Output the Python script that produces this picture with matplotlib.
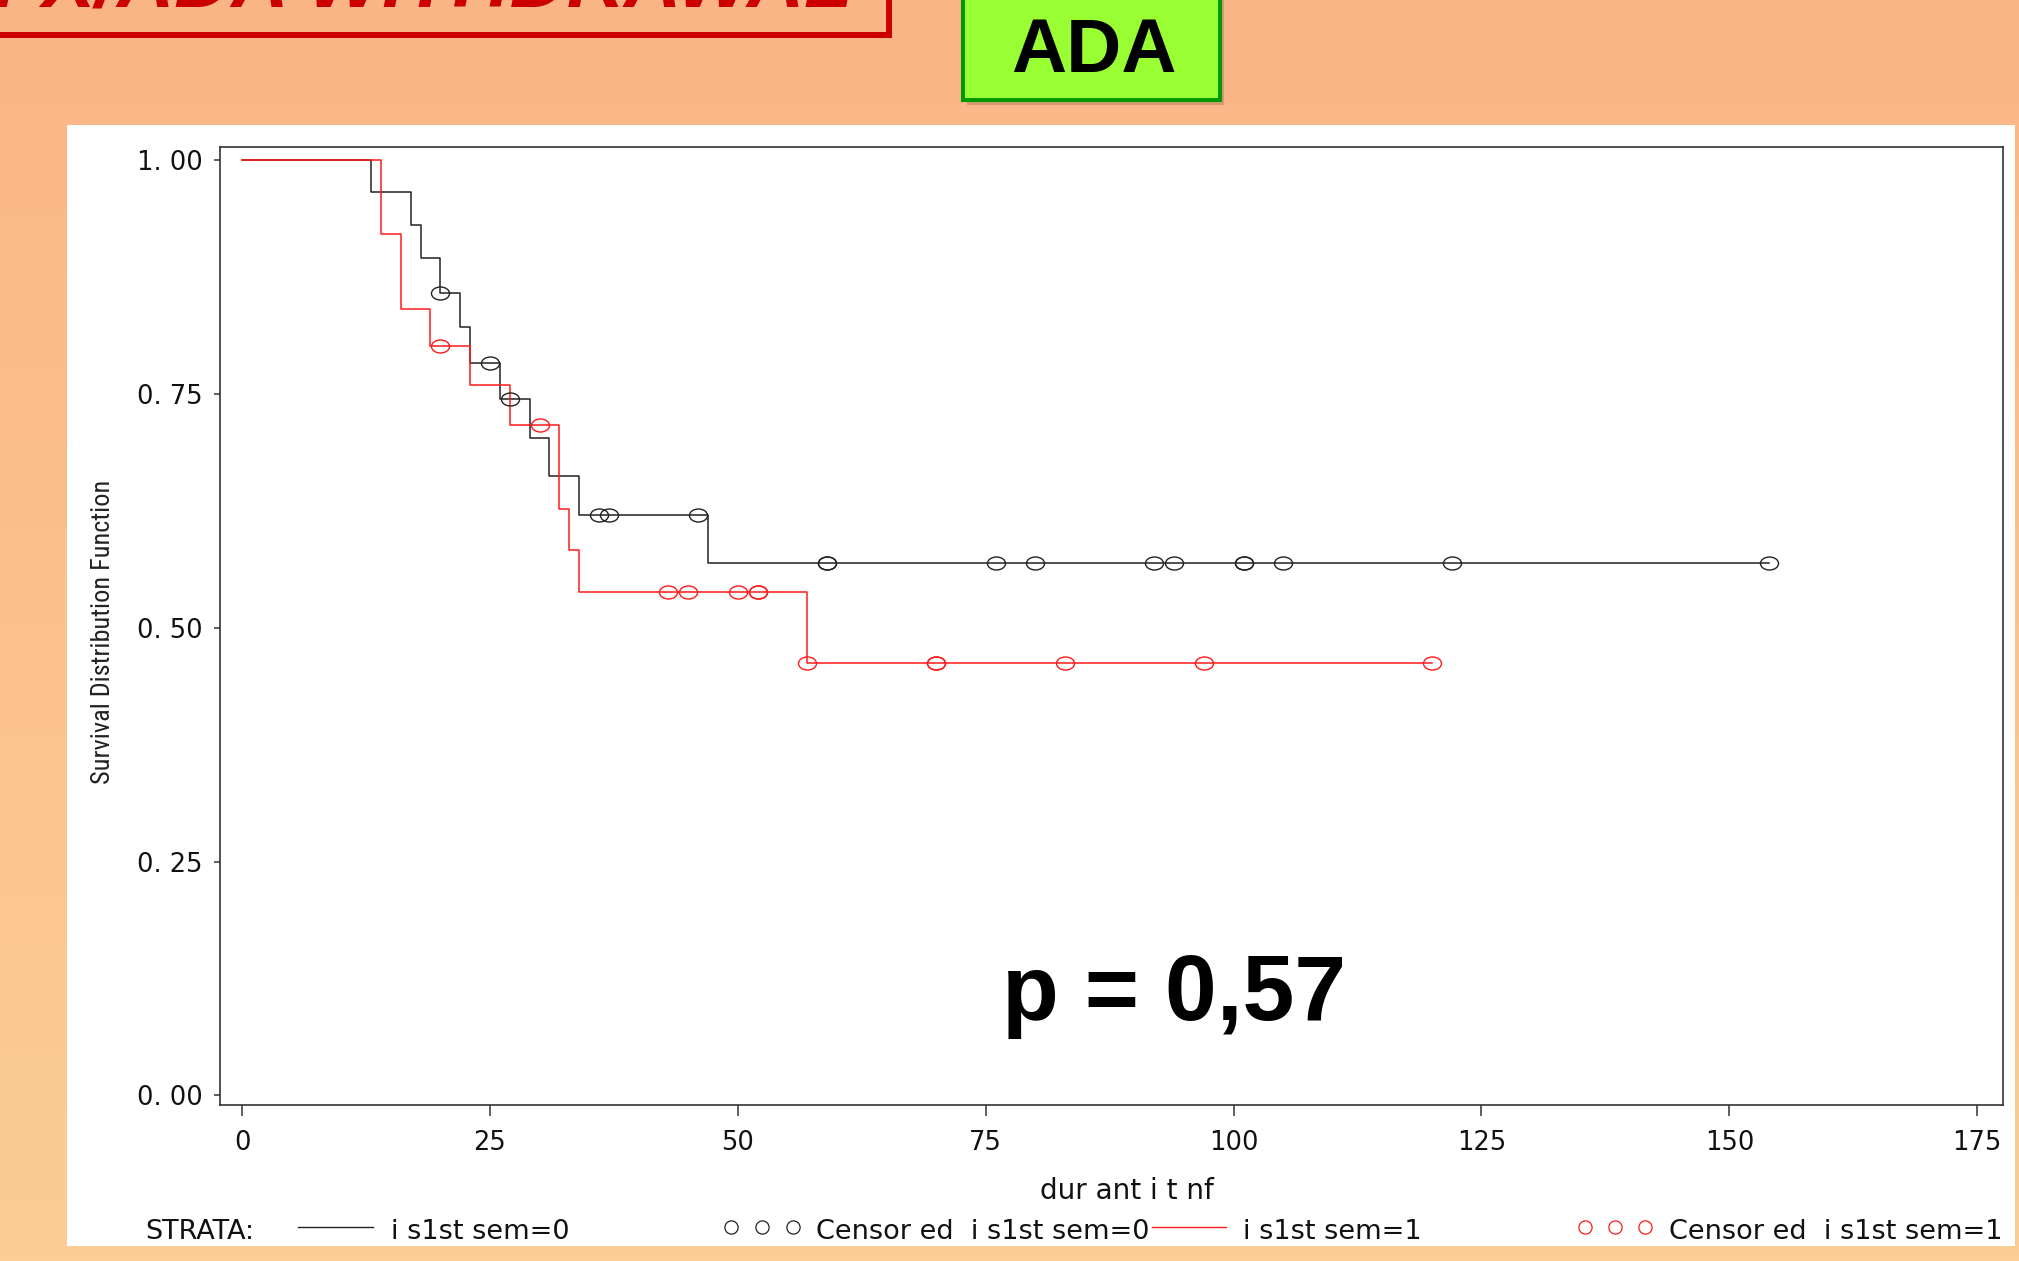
import numpy as np
import matplotlib
matplotlib.use("Agg")
import matplotlib.pyplot as plt
from matplotlib.patches import Rectangle
from matplotlib.lines import Line2D
from matplotlib.path import Path
from matplotlib import font_manager as fm

# ---------------- data ----------------
black_event_times = [0, 13, 17, 18, 20, 22, 23, 26, 29, 31, 34, 47]
black_survival = [1.000, 0.966, 0.930, 0.895, 0.858, 0.821, 0.783, 0.744, 0.703, 0.662, 0.621, 0.569]
black_last_time = 154
black_censor_times = [20, 25, 27, 36, 37, 46, 59, 59, 76, 80, 92, 94, 101, 101, 105, 122, 154]

red_event_times = [0, 14, 16, 19, 23, 27, 32, 33, 34, 57]
red_survival = [1.000, 0.921, 0.841, 0.801, 0.759, 0.717, 0.627, 0.583, 0.538, 0.462]
red_last_time = 120
red_censor_times = [20, 30, 43, 45, 50, 52, 52, 57, 70, 70, 83, 97, 120]

x_ticks = [0, 25, 50, 75, 100, 125, 150, 175]
x_tick_labels = ["0", "25", "50", "75", "100", "125", "150", "175"]
y_ticks = [0.0, 0.25, 0.5, 0.75, 1.0]
y_tick_labels = ["0. 00", "0. 25", "0. 50", "0. 75", "1. 00"]

title_text = "IFX/ADA WITHDRAWAL"
badge_text = "ADA"
p_text = "p = 0,57"
x_label = "dur ant i t nf"
y_label = "Survival Distribution Function"
legend_strata = "STRATA:"
legend_labels = ["i s1st sem=0", "Censor ed  i s1st sem=0", "i s1st sem=1", "Censor ed  i s1st sem=1"]

BLACK = "#222222"
RED = "#FF1A1A"

# ---------------- helpers ----------------
W, H = 2019, 1261
fig = plt.figure(figsize=(W / 100, H / 100), dpi=100)


def fx(px):
    return px / W


def fy(py):
    return 1 - py / H


def has_font(name):
    try:
        fm.findfont(fm.FontProperties(family=name), fallback_to_default=False)
        return True
    except Exception:
        return False


BOLD_FAM = "Liberation Sans" if has_font("Liberation Sans") else "DejaVu Sans"

# ---------------- background gradient ----------------
bg = fig.add_axes([0, 0, 1, 1], zorder=-10)
top = np.array([250, 181, 134]) / 255.0
bot = np.array([252, 205, 151]) / 255.0
tt = np.linspace(0, 1, 256)[:, None, None]
grad = top[None, None, :] * (1 - tt) + bot[None, None, :] * tt
bg.imshow(grad, aspect="auto", extent=[0, 1, 0, 1], origin="upper")
bg.set_axis_off()

# white panel
panel = Rectangle((fx(67), fy(1246)), fx(2015) - fx(67), fy(125) - fy(1246),
                  transform=fig.transFigure, facecolor="white", edgecolor="none", zorder=-5)
fig.add_artist(panel)

# red title box (cut at the top of the slide)
fig.add_artist(Rectangle((fx(-30), fy(35)), fx(889) - fx(-30), fy(-30) - fy(35),
                         transform=fig.transFigure, facecolor="none", edgecolor="#CC0000",
                         linewidth=4.3, zorder=2))
fig.text(fx(852), fy(6), title_text, color="#CC0000", fontsize=57, fontweight="bold",
         fontstyle="italic", family=BOLD_FAM, ha="right", va="baseline", zorder=3)

# green badge
fig.add_artist(Rectangle((fx(967), fy(105)), fx(1224) - fx(967), fy(-20) - fy(105),
                         transform=fig.transFigure, facecolor="#8a6a50", alpha=0.35,
                         edgecolor="none", zorder=2))
fig.add_artist(Rectangle((fx(963), fy(100)), fx(1220) - fx(963), fy(-20) - fy(100),
                         transform=fig.transFigure, facecolor="#99FF33", edgecolor="#009900",
                         linewidth=2.9, zorder=3))
fig.text(fx(1094), fy(72), badge_text, color="black", fontsize=55, fontweight="bold",
         family=BOLD_FAM, ha="center", va="baseline", zorder=4)

# ---------------- main axes ----------------
ax = fig.add_axes([fx(220), fy(1105), fx(2002.5) - fx(220), (1105 - 147) / H], zorder=1)
ax.set_facecolor("white")
ax.set_xlim(-2.23, 177.55)
ax.set_ylim(-0.0102, 1.0139)

for sp in ax.spines.values():
    sp.set_color("#333333")
    sp.set_linewidth(1.2)

ax.set_xticks(x_ticks)
ax.set_xticklabels(x_tick_labels, fontsize=18.5, family="DejaVu Sans", color="#111111")
ax.set_yticks(y_ticks)
ax.set_yticklabels(y_tick_labels, fontsize=18.5, family="DejaVu Sans", color="#111111")
ax.tick_params(axis="x", direction="out", length=8, width=1.1, color="#333333", pad=10)
ax.tick_params(axis="y", direction="out", length=4.3, width=1.1, color="#333333", pad=8)

circ = Path.unit_circle()
ellipse = Path(circ.vertices * np.array([1.0, 0.72]), circ.codes)


def plot_km(times, surv, last, censors, color):
    xs = list(times) + [last]
    ys = list(surv) + [surv[-1]]
    ax.step(xs, ys, where="post", color=color, linewidth=1.1, zorder=3)
    idx = np.searchsorted(np.array(times), np.array(censors), side="right") - 1
    cy = np.array(surv)[idx]
    ax.plot(censors, cy, linestyle="none", marker=ellipse, markersize=13,
            markerfacecolor="none", markeredgecolor=color, markeredgewidth=1.0, zorder=4)


plot_km(black_event_times, black_survival, black_last_time, black_censor_times, BLACK)
plot_km(red_event_times, red_survival, red_last_time, red_censor_times, RED)

# p-value
fig.text(fx(1002), fy(1020), p_text, fontsize=67, fontweight="bold", family=BOLD_FAM,
         color="black", ha="left", va="baseline", zorder=5)

# axis labels
fig.text(fx(1127), fy(1199), x_label, fontsize=20, family="DejaVu Sans", color="#111111",
         ha="center", va="baseline")

narrow = None
for cand in ["Liberation Sans Narrow", "Roboto Condensed", "Open Sans Condensed", "DejaVu Sans"]:
    if has_font(cand):
        narrow = cand
        break
ylab = fig.text(fx(103), fy(631.5), y_label, fontsize=17, family=narrow, color="#222222",
                rotation=90, ha="center", va="center")
renderer = fig.canvas.get_renderer()
ext = ylab.get_window_extent(renderer)
if ext.height > 0:
    ylab.set_fontsize(17 * 303.0 / ext.height)

# ---------------- legend row ----------------
LY = 1227
LB = 1239
LEG_FS = 19.5
fig.text(fx(145), fy(LB), legend_strata, fontsize=LEG_FS, family="DejaVu Sans", color="#111111",
         ha="left", va="baseline")
fig.add_artist(Line2D([fx(298), fx(373)], [fy(LY), fy(LY)], transform=fig.transFigure,
                      color=BLACK, linewidth=1.0))
fig.text(fx(391), fy(LB), legend_labels[0], fontsize=LEG_FS, family="DejaVu Sans",
         color="#111111", ha="left", va="baseline")
fig.add_artist(Line2D([fx(731), fx(762), fx(793)], [fy(LY)] * 3, transform=fig.transFigure,
                      linestyle="none", marker="o", markersize=9.5, markerfacecolor="none",
                      markeredgecolor=BLACK, markeredgewidth=0.9))
fig.text(fx(816), fy(LB), legend_labels[1], fontsize=LEG_FS, family="DejaVu Sans",
         color="#111111", ha="left", va="baseline")
fig.add_artist(Line2D([fx(1152), fx(1226)], [fy(LY), fy(LY)], transform=fig.transFigure,
                      color=RED, linewidth=1.0, zorder=5))
fig.text(fx(1243), fy(LB), legend_labels[2], fontsize=LEG_FS, family="DejaVu Sans",
         color="#111111", ha="left", va="baseline")
fig.add_artist(Line2D([fx(1585), fx(1615), fx(1645)], [fy(LY)] * 3, transform=fig.transFigure,
                      linestyle="none", marker="o", markersize=9.5, markerfacecolor="none",
                      markeredgecolor=RED, markeredgewidth=0.9))
last = fig.text(fx(1669), fy(LB), legend_labels[3], fontsize=LEG_FS, family="DejaVu Sans",
                color="#111111", ha="left", va="baseline")
last.set_clip_path(panel)

fig.savefig("out.png", dpi=100)
